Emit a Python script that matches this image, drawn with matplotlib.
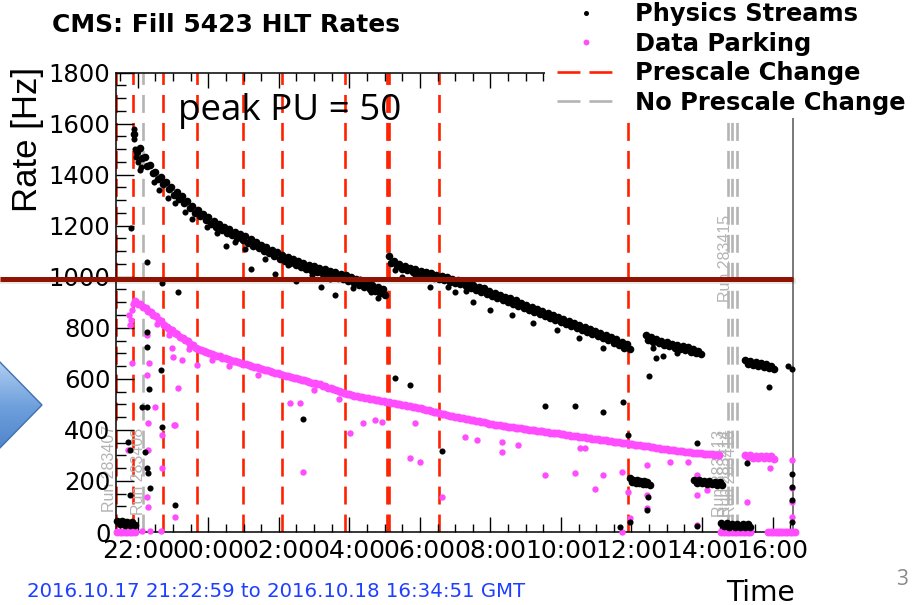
import numpy as np
import matplotlib.pyplot as plt
from matplotlib.lines import Line2D
from matplotlib.patches import Polygon, Rectangle
from matplotlib.colors import LinearSegmentedColormap

# time in hours since 2016.10.17 00:00 GMT, rates in Hz
t_range = (21.383, 40.581)
tick_hours = [22, 24, 26, 28, 30, 32, 34, 36, 38, 40]
tick_labels = ["22:00", "00:00", "02:00", "04:00", "06:00",
               "08:00", "10:00", "12:00", "14:00", "16:00"]

# Physics Streams: dense bands (start, end time) + values, upper and lower edge
phys_band1_t = (21.90, 28.95)
phys_band1 = [1560, 1505, 1468, 1437, 1412, 1390, 1370, 1351, 1333, 1315, 1297, 1278,
              1260, 1246, 1232, 1218, 1205, 1195, 1186, 1176, 1167, 1158, 1147, 1136,
              1125, 1116, 1106, 1095, 1085, 1077, 1069, 1061, 1054, 1047, 1041, 1035,
              1029, 1023, 1018, 1012, 1007, 999, 991, 983, 976, 968, 960, 952]
phys_band1_lo = [1490, 1465, 1435, 1405, 1382, 1362, 1342, 1322, 1305, 1287, 1268, 1250,
                 1236, 1222, 1208, 1195, 1183, 1173, 1163, 1153, 1143, 1132, 1121, 1111,
                 1101, 1091, 1081, 1071, 1062, 1054, 1046, 1039, 1032, 1026, 1020, 1014,
                 1008, 1002, 996, 990, 982, 975, 967, 959, 951, 943, 935, 928]
phys_band2_t = (29.12, 35.87)
phys_band2 = [1080, 1062, 1050, 1042, 1035, 1029, 1023, 1018, 1013, 1008, 1003, 998,
              993, 988, 982, 975, 968, 961, 954, 946, 938, 929, 922, 915, 907, 899,
              891, 883, 875, 867, 859, 851, 844, 836, 828, 820, 812, 804, 796, 788,
              781, 773, 765, 756, 746, 735]
phys_band2_lo = [1052, 1042, 1032, 1025, 1018, 1012, 1006, 1001, 996, 991, 986, 981,
                 976, 970, 963, 956, 949, 942, 934, 926, 917, 909, 901, 893, 885, 877,
                 869, 861, 853, 845, 837, 830, 822, 814, 806, 798, 790, 782, 774, 767,
                 759, 751, 742, 732, 722, 715]
phys_band3_t = (36.40, 37.90)
phys_band3 = [772, 764, 757, 750, 744, 738, 733, 728, 723, 717, 710]
phys_band3_lo = [752, 746, 740, 734, 728, 722, 717, 712, 707, 702, 698]
phys_band4_t = (39.22, 39.97)
phys_band4 = [675, 671, 667, 663, 658, 651]
phys_band4_lo = [660, 655, 652, 648, 644, 640]
phys_low1_t = (21.42, 21.85)
phys_low1 = [44, 42, 40, 39]
phys_low1_lo = [30, 28, 27, 27]
phys_low2_t = (35.95, 36.45)
phys_low2 = [210, 205, 202, 200, 199, 196]
phys_low2_lo = [196, 192, 190, 189, 188, 186]
phys_low3_t = (37.78, 38.50)
phys_low3 = [204, 202, 200, 199, 197, 194]
phys_low3_lo = [192, 190, 189, 188, 186, 184]
phys_low4_t = (38.55, 39.30)
phys_low4 = [36, 34, 33, 32, 31, 31]
phys_low4_lo = [22, 21, 20, 20, 19, 19]
# isolated points
phys_pts_t = [21.80, 21.88, 21.90, 21.93, 21.96, 22.00, 22.05, 22.10,
              22.26, 23.14, 22.69, 22.26, 22.26, 22.66, 22.32, 22.12, 22.26, 22.69,
              21.72, 21.78, 22.21, 22.26, 22.29, 22.35, 21.78, 23.06, 26.69, 30.63,
              33.55, 34.40, 35.19, 35.76, 35.90, 37.86, 36.47, 36.44, 35.96, 35.67,
              37.86, 39.27, 40.55, 40.55, 40.55, 40.55, 39.90, 40.45, 40.55,
              24.50, 25.20, 25.90, 26.50, 27.20, 27.60, 28.30, 28.80, 29.50, 29.29,
              29.72, 30.30, 31.00, 31.50, 32.00, 32.60, 33.20, 33.90, 34.50, 35.20,
              36.60, 36.90, 37.30, 36.50, 36.70,
              22.45, 22.60, 22.85, 23.05, 23.35, 23.55, 23.95, 24.25, 24.75, 25.05,
              25.60, 26.25, 26.95, 27.45, 28.10, 28.60, 29.30, 29.85, 30.80, 31.30]
phys_pts_r = [1190, 1580, 1540, 1500, 1470, 1450, 1420, 1430,
              1058, 940, 975, 783, 725, 634, 560, 490, 490, 411,
              352, 321, 313, 250, 231, 172, 145, 106, 443, 317,
              494, 494, 470, 509, 380, 349, 137, 86, 39, 20,
              23, 270, 227, 176, 125, 39, 568, 650, 640,
              1120, 1030, 1010, 985, 960, 930, 990, 915, 1000, 603,
              575, 960, 940, 900, 870, 850, 820, 790, 760, 720,
              720, 690, 700, 610, 680,
              1370, 1340, 1310, 1290, 1255, 1225, 1195, 1170, 1135, 1110,
              1070, 1045, 1005, 990, 955, 940, 1025, 1000, 960, 945]

# Data Parking
park_band_t = (21.92, 38.42)
park_band = [905, 893, 878, 863, 845, 826, 805, 790, 776, 761, 747, 732, 718, 710,
             702, 695, 688, 681, 675, 669, 663, 657, 651, 645, 639, 634, 628, 622,
             616, 611, 605, 600, 594, 589, 583, 578, 570, 563, 556, 549, 542, 537,
             533, 529, 525, 521, 517, 513, 509, 505, 501, 497, 493, 488, 484, 479,
             474, 469, 464, 459, 454, 449, 445, 441, 437, 433, 429, 425, 421, 418,
             415, 412, 409, 406, 403, 400, 397, 394, 391, 388, 386, 383, 380, 377,
             374, 371, 368, 365, 362, 359, 356, 353, 350, 347, 344, 341, 338, 335,
             332, 329, 326, 323, 321, 318, 315, 312, 310, 308, 306, 304, 302]
park_band_lo = [893, 880, 866, 850, 832, 812, 794, 779, 765, 751, 736, 722, 712, 704,
                697, 690, 683, 677, 671, 665, 659, 653, 647, 641, 636, 630, 624, 618,
                613, 607, 602, 596, 591, 585, 580, 573, 566, 559, 552, 545, 539, 534,
                530, 526, 522, 518, 514, 510, 506, 502, 498, 494, 490, 485, 481, 476,
                471, 466, 461, 456, 451, 446, 442, 438, 434, 430, 426, 422, 419, 416,
                413, 410, 407, 404, 401, 398, 395, 392, 389, 386, 384, 381, 378, 375,
                372, 369, 366, 363, 360, 357, 354, 351, 348, 345, 342, 339, 336, 333,
                330, 327, 324, 321, 319, 316, 313, 310, 308, 306, 304, 302, 300]
park_band2_t = (39.22, 39.97)
park_band2 = [302, 300, 299, 298, 297, 296]
park_band2_lo = [292, 291, 290, 289, 288, 287]
park_zero1_t = (21.42, 21.85)
park_zero1 = [0, 0, 0, 0]
park_zero2_t = (38.55, 39.30)
park_zero2 = [0, 0, 0, 0, 0, 0]
park_zero3_t = (39.88, 40.55)
park_zero3 = [0, 0, 0, 0, 0, 0]
park_pts_t = [21.76, 21.78, 21.80, 21.84, 21.86, 22.12, 22.35, 22.66,
              21.84, 22.32, 22.26, 22.97, 23.25, 23.14, 23.00, 23.68, 22.26, 22.29,
              23.03, 22.69, 22.29, 22.49, 23.06, 22.69, 23.06, 21.72, 22.29, 22.26,
              26.32, 26.60, 26.69, 28.02, 28.39, 28.73, 28.93, 29.72, 30.00, 30.63,
              29.86, 31.28, 31.62, 32.33, 32.33, 32.78, 33.55, 34.40, 35.19, 34.96,
              34.54, 34.68, 35.73, 35.90, 35.96, 35.73, 36.44, 36.44, 36.44, 37.09,
              37.60, 37.86, 37.86, 37.86, 38.14, 39.27, 39.93, 40.55, 40.55, 40.55,
              40.55, 22.55, 22.90, 23.45, 24.10, 24.60, 25.40, 27.00, 27.70]
park_pts_r = [850, 810, 830, 870, 895, 2, 2, 2,
              662, 662, 772, 720, 674, 564, 685, 654, 615, 427,
              419, 250, 321, 490, 419, 380, 59, 321, 98, 137,
              505, 505, 235, 388, 427, 439, 431, 290, 274, 137,
              427, 372, 360, 353, 313, 341, 223, 231, 223, 168,
              329, 329, 235, 157, 55, 0, 262, 145, 94, 274,
              274, 223, 145, 27, 165, 117, 250, 282, 172, 117,
              59, 815, 770, 715, 675, 650, 615, 555, 520]

prescale_t = [21.39, 21.86, 22.72, 23.68, 24.98, 26.09, 27.88, 29.07, 29.13, 30.54, 35.90]
noprescale_t = [22.15, 38.74, 38.85, 38.99]
run_labels = ["Run 283407", "Run 283408", "Run 283413", "Run 283414", "Run 283416", "Run 283415"]
run_label_t = [21.19, 22.01, 38.51, 38.66, 38.80, 38.66]
run_label_r = [78, 67, 60, 60, 60, 900]

legend_labels = ["Physics Streams", "Data Parking", "Prescale Change", "No Prescale Change"]

W, H = 913, 605
fig = plt.figure(figsize=(W / 100, H / 100), dpi=100)


def fx(px):
    return px / W


def fy(py):
    return 1 - py / H


red = '#ff2200'
grey = '#b4b4b4'
magenta = '#ff4cff'

ax = fig.add_axes([fx(116), fy(532), (793 - 116) / W, (532 - 72.5) / H])
ax.set_xlim(*t_range)
ax.set_ylim(0, 1800)

dash = (0, (6.8, 3.8))
for t in prescale_t:
    ax.axvline(t, color=red, lw=1.9, ls=dash, zorder=1)
for t in noprescale_t:
    ax.axvline(t, color=grey, lw=1.9, ls=dash, zorder=1)

for lab, t, r in zip(run_labels, run_label_t, run_label_r):
    ax.text(t, r, lab, rotation=90, ha='center', va='bottom', color=grey,
            fontsize=11.5, family='Liberation Sans', clip_on=False, zorder=1.5)


def band(tt, vals, color, ms, shift=0.0):
    # lower-edge rows sit half a step later so the two rows interleave
    times = np.linspace(tt[0], tt[1], len(vals)) + shift
    ax.plot(times, vals, ls='none', marker='o', ms=ms, mew=0, color=color,
            clip_on=False, zorder=3)


park_sets = [(park_band_t, park_band, park_band_lo),
             (park_band2_t, park_band2, park_band2_lo),
             (park_zero1_t, park_zero1, park_zero1),
             (park_zero2_t, park_zero2, park_zero2),
             (park_zero3_t, park_zero3, park_zero3)]
for tt, hi, lo in park_sets:
    band(tt, hi, magenta, 5.7)
    band(tt, lo, magenta, 5.7, shift=0.075)
ax.plot(park_pts_t, park_pts_r, ls='none', marker='o', ms=4.6, mew=0, color=magenta,
        clip_on=False, zorder=3)

phys_sets = [(phys_band1_t, phys_band1, phys_band1_lo),
             (phys_band2_t, phys_band2, phys_band2_lo),
             (phys_band3_t, phys_band3, phys_band3_lo),
             (phys_band4_t, phys_band4, phys_band4_lo),
             (phys_low1_t, phys_low1, phys_low1_lo),
             (phys_low2_t, phys_low2, phys_low2_lo),
             (phys_low3_t, phys_low3, phys_low3_lo),
             (phys_low4_t, phys_low4, phys_low4_lo)]
for tt, hi, lo in phys_sets:
    band(tt, hi, 'black', 5.5)
    band(tt, lo, 'black', 5.5, shift=0.075)
ax.plot(phys_pts_t, phys_pts_r, ls='none', marker='o', ms=4.4, mew=0, color='black',
        clip_on=False, zorder=3)

ax.set_xticks(tick_hours)
ax.set_xticklabels(tick_labels)
ax.set_xticks(np.arange(21.5, 40.6, 0.5), minor=True)
ax.set_yticks(np.arange(0, 1801, 200))
ax.set_yticks(np.arange(0, 1801, 50), minor=True)
ax.tick_params(which='both', direction='in', top=True, right=False, width=1)
ax.tick_params(axis='x', labelsize=18)
ax.tick_params(axis='y', labelsize=17.5)
ax.xaxis.set_tick_params(which='major', length=10.5, pad=5)
ax.xaxis.set_tick_params(which='minor', length=5.5)
ax.yaxis.set_tick_params(which='major', length=13, pad=4)
ax.yaxis.set_tick_params(which='minor', length=7)
for s in ax.spines.values():
    s.set_linewidth(1.1)
ax.spines['right'].set_color('#555555')

# white box behind the legend
fig.add_artist(Rectangle((fx(545), fy(118)), 1 - fx(545), 118 / H,
                         transform=fig.transFigure, facecolor='white',
                         edgecolor='none', zorder=3))
handles = [Line2D([], [], ls='none', marker='o', ms=3.6, mew=0, color='black'),
           Line2D([], [], ls='none', marker='o', ms=4.2, mew=0, color=magenta),
           Line2D([], [], color=red, lw=1.9, ls=(0, (8.7, 3.4))),
           Line2D([], [], color=grey, lw=1.9, ls=(0, (8.7, 3.4)))]
leg = fig.legend(handles, legend_labels, loc='upper left',
                 bbox_to_anchor=(fx(557), fy(2)), frameon=False,
                 prop={'weight': 'bold', 'size': 17.4}, handlelength=2.4,
                 handletextpad=0.83, labelspacing=0.23, borderpad=0, borderaxespad=0)
leg.set_zorder(5)

fig.text(fx(52), fy(32), "CMS: Fill 5423 HLT Rates", fontsize=18, weight='bold',
         va='baseline')
fig.text(fx(28), fy(67), "Rate [Hz]", rotation=90, ha='center', va='top',
         fontsize=25, family='Liberation Sans')
fig.text(fx(27), fy(597), "2016.10.17 21:22:59 to 2016.10.18 16:34:51 GMT",
         color='#1f3fff', fontsize=14.2, va='baseline')
fig.text(fx(795), fy(601), "Time", ha='right', va='baseline', fontsize=20.3)

# slide overlays
fig.text(fx(178), fy(120), "peak PU = 50", fontsize=26.5, family='Open Sans',
         va='baseline', zorder=6)
fig.text(fx(896), fy(585), "3", fontsize=15, family='Open Sans', color='#8a8a8a',
         va='baseline')
fig.add_artist(Line2D([0, fx(793)], [fy(281.5), fy(281.5)], transform=fig.transFigure,
                      color='#000000', alpha=0.10, lw=4.0, zorder=6))
fig.add_artist(Line2D([0, fx(793)], [fy(279), fy(279)], transform=fig.transFigure,
                      color='#8f1300', lw=3.6, solid_capstyle='butt', zorder=7))

ax2 = fig.add_axes([0, fy(460), 50 / W, 105 / H])
ax2.set_xlim(0, 50)
ax2.set_ylim(460, 355)
ax2.axis('off')
cmap = LinearSegmentedColormap.from_list('arr', ['#b8d4f4', '#6d9fdc', '#4a7fc6'])
arrow = Polygon([(-5, 357), (42, 405), (-5, 453)], closed=True, facecolor='none',
                edgecolor='#4070b0', lw=1.0)
ax2.add_patch(arrow)
im = ax2.imshow(np.linspace(0, 1, 100).reshape(-1, 1), extent=(0, 50, 460, 355),
                cmap=cmap, aspect='auto')
im.set_clip_path(arrow)

fig.savefig('out.png', dpi=100)
